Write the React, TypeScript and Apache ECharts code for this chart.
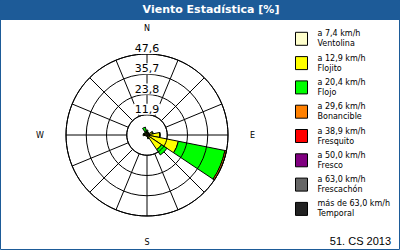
import React, { useEffect, useRef } from "react";
import * as echarts from "echarts";

const directions = ["N", "NNE", "NE", "ENE", "E", "ESE", "SE", "SSE", "S", "SSW", "SW", "WSW", "W", "WNW", "NW", "NNW"];
const cardinalLabels = ["N", "E", "S", "W"];
const radiusTicks = [11.9, 23.8, 35.7, 47.6];

const seriesNames = [
  "a 7,4 km/h\nVentolina",
  "a 12,9 km/h\nFlojito",
  "a 20,4 km/h\nFlojo",
  "a 29,6 km/h\nBonancible",
  "a 38,9 km/h\nFresquito",
  "a 50,0 km/h\nFresco",
  "a 63,0 km/h\nFrescachón",
  "más de 63,0 km/h\nTemporal",
];
const seriesColors = ["#ffffcc", "#ffff00", "#00ff00", "#ff8000", "#ff0000", "#800080", "#666666", "#222222"];

//                    N    NNE  NE   ENE  E    ESE   SE   SSE  S    SSW  SW   WSW  W    WNW  NW   NNW
const ventolina =   [0.6, 0.4, 0.4, 0.6, 1.0, 1.0,  0.8, 0.5, 0.4, 0.3, 0.4, 0.5, 0.8, 0.7, 0.6, 0.6];
const flojito =     [1.5, 1.2, 0.8, 2.8, 6.5, 17.8, 9.5, 1.5, 0.5, 0.3, 0.3, 0.5, 1.5, 1.2, 1.0, 1.5];
const flojo =       [0.8, 0.2, 0.1, 0.4, 0.3, 27.9, 3.8, 0.3, 0.0, 0.0, 0.0, 0.0, 0.0, 0.2, 0.3, 2.6];
const bonancible =  [0, 0, 0, 0, 0, 0.9, 0, 0, 0, 0, 0, 0, 0, 0, 0, 0];
const fresquito =   [0, 0, 0, 0, 0, 0, 0, 0, 0, 0, 0, 0, 0, 0, 0, 0];
const fresco =      [0, 0, 0, 0, 0, 0, 0, 0, 0, 0, 0, 0, 0, 0, 0, 0];
const frescachon =  [0, 0, 0, 0, 0, 0, 0, 0, 0, 0, 0, 0, 0, 0, 0, 0];
const temporal =    [0, 0, 0, 0, 0, 0, 0, 0, 0, 0, 0, 0, 0, 0, 0, 0];

const allValues = [ventolina, flojito, flojo, bonancible, fresquito, fresco, frescachon, temporal];

const HEADER = "#1d5b98";
const FONT = "DejaVu Sans";

export default function App() {
  const ref = useRef<HTMLDivElement>(null);
  useEffect(() => {
    if (!ref.current) return;
    const chart = echarts.init(ref.current, null, { renderer: "svg" });
    const rMax = radiusTicks[radiusTicks.length - 1];
    const step = radiusTicks[0];
    const outerR = 81;
    const innerR = (outerR * step) / rMax;
    chart.setOption({
      animation: false,
      backgroundColor: "#ffffff",
      title: [
        {
          text: "Viento Estadística [%]",
          left: 211,
          top: 4,
          textAlign: "center",
          padding: 0,
          textStyle: { color: "#ffffff", fontSize: 11, fontWeight: "bold", fontFamily: FONT },
        },
        {
          text: "51. CS 2013",
          right: 9,
          bottom: 4,
          padding: 0,
          textStyle: { color: "#000000", fontSize: 11, fontWeight: "normal", fontFamily: "Liberation Sans" },
        },
      ],
      graphic: [
        { type: "rect", shape: { x: 0, y: 0, width: 400, height: 20 }, style: { fill: HEADER }, z: -1 },
        { type: "rect", shape: { x: 0.5, y: 0.5, width: 399, height: 249 }, style: { fill: "none", stroke: HEADER, lineWidth: 1 }, z: -1 },
      ],
      legend: {
        orient: "vertical",
        left: 295,
        top: 24.3,
        padding: 0,
        itemWidth: 12,
        itemHeight: 13,
        itemGap: -4.7,
        icon: "rect",
        selectedMode: false,
        data: seriesNames,
        itemStyle: { borderColor: "#000", borderWidth: 1 },
        textStyle: { fontSize: 8, lineHeight: 10, color: "#000", fontFamily: FONT, padding: [9, 0, 0, 5] },
      },
      polar: [
        { center: [147, 135], radius: [0, outerR] },
        { center: [147, 135], radius: [innerR, outerR] },
      ],
      angleAxis: [
        {
          polarIndex: 0,
          type: "category",
          data: directions,
          startAngle: 90 + 360 / directions.length / 2,
          clockwise: true,
          boundaryGap: true,
          axisLine: { show: false },
          axisTick: { show: false },
          splitLine: { show: false },
          axisLabel: {
            interval: 0,
            margin: 22,
            fontSize: 8,
            color: "#000",
            fontFamily: FONT,
            formatter: (v: string) => (cardinalLabels.includes(v) ? v : ""),
          },
        },
        {
          polarIndex: 1,
          type: "value",
          min: 0,
          max: 360,
          interval: 360 / directions.length,
          startAngle: 90,
          clockwise: true,
          axisLine: { show: true, lineStyle: { color: "#000", width: 1 } },
          axisTick: { show: false },
          axisLabel: { show: false },
          splitLine: { show: true, lineStyle: { color: "#000", width: 1 } },
        },
      ],
      radiusAxis: [
        {
          polarIndex: 0,
          type: "value",
          min: 0,
          max: rMax,
          show: false,
          axisLine: { show: false },
          splitLine: { show: false },
          axisLabel: { show: false },
          axisTick: { show: false },
        },
        {
          polarIndex: 1,
          type: "value",
          min: step,
          max: rMax,
          interval: step,
          axisLine: { show: false },
          axisTick: { show: false },
          splitLine: { show: true, lineStyle: { color: "#000", width: 1 } },
          axisLabel: {
            show: true,
            margin: 0,
            align: "center",
            verticalAlign: "bottom",
            rotate: 0,
            fontSize: 11,
            color: "#000",
            fontFamily: FONT,
            backgroundColor: "#ffffff",
            padding: [0, 1, 0, 1],
            formatter: (v: number) => v.toFixed(1).replace(".", ","),
          },
          z: 5,
        },
      ],
      series: allValues.map((vals, i) => ({
        type: "bar",
        name: seriesNames[i],
        coordinateSystem: "polar",
        polarIndex: 0,
        stack: "wind",
        barCategoryGap: "0%",
        data: vals.map((v) => (v > 0 ? v : null)),
        itemStyle: { color: seriesColors[i], borderColor: "#000", borderWidth: 1 },
        z: 3,
      })),
    });
    return () => chart.dispose();
  }, []);
  return <div ref={ref} style={{ position: "fixed", left: 0, top: 0, width: 400, height: 250 }} />;
}
